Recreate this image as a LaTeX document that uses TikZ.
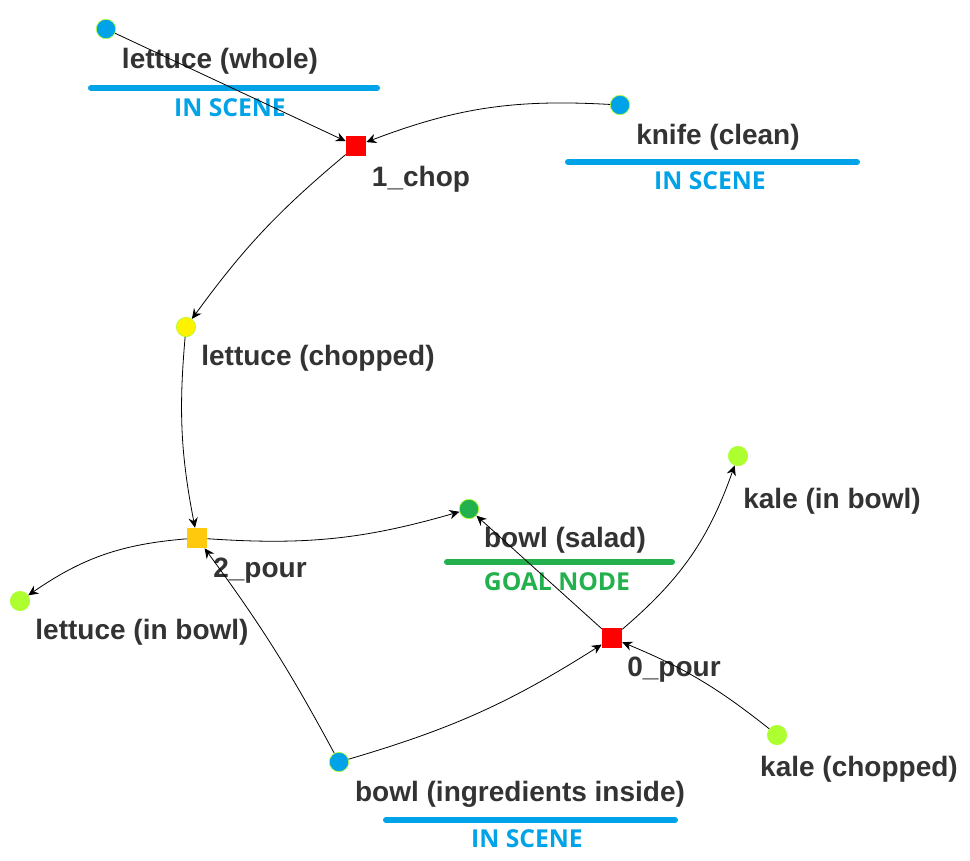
\documentclass[tikz,border=0pt]{standalone}
\usepackage{fontspec}
\setmainfont{Liberation Sans}
\newfontfamily\tagfont{Open Sans}
\usepackage{xcolor}
\usepackage{tikz}
\usetikzlibrary{arrows.meta}
\definecolor{sgText}{HTML}{333333}
\definecolor{sgBlue}{HTML}{00A2E8}
\definecolor{sgGreen}{HTML}{22B14C}
\definecolor{sgLime}{HTML}{ADFF2F}
\definecolor{sgYellow}{HTML}{FFF200}
\definecolor{sgGold}{HTML}{FFC90E}
\definecolor{sgRed}{HTML}{FF0000}

\begin{document}
\begin{tikzpicture}[
  x=0.75pt, y=-0.75pt,
  obj/.style={circle, fill=#1, draw=sgLime, line width=0.5pt, minimum size=14.5pt, inner sep=0pt},
  act/.style={rectangle, fill=#1, minimum size=15pt, inner sep=0pt},
  lbl/.style={font=\fontsize{21}{24}\selectfont\bfseries, text=sgText, inner sep=0pt},
  tag/.style={font=\tagfont\fontsize{18.5}{21}\selectfont\bfseries, text=#1, inner sep=0pt},
  bar/.style={line width=4.5pt, line cap=round, draw=#1},
  flow/.style={-{Stealth[length=7.5pt, width=7pt, inset=2.5pt]}, line width=0.6pt, draw=black},
]
\useasboundingbox[fill=white] (0,0) rectangle (970,860);

% ── Objects ───────────────────────────────────────────────────────────────────
\node[obj=sgBlue]   (lwhole) at (106,29)  {};
\node[obj=sgBlue]   (knife)  at (620,105) {};
\node[obj=sgYellow] (lchop)  at (186,327) {};
\node[obj=sgGreen]  (bsalad) at (469,509) {};
\node[obj=sgLime]   (kbowl)  at (738,456) {};
\node[obj=sgLime]   (lbowl)  at (20,601)  {};
\node[obj=sgLime]   (kchop)  at (777,735) {};
\node[obj=sgBlue]   (bingr)  at (339,762) {};

% ── Actions ───────────────────────────────────────────────────────────────────
\node[act=sgRed]  (chop1) at (356,146) {};
\node[act=sgGold] (pour2) at (197,538) {};
\node[act=sgRed]  (pour0) at (612,638) {};

% ── Labels ────────────────────────────────────────────────────────────────────
\node[lbl] (lwholeT) at (220,61)  {lettuce (whole)};
\node[lbl] (knifeT)  at (718,137) {knife (clean)};
\node[lbl] (chop1T)  at (421,179) {1\_chop};
\node[lbl] (lchopT)  at (318,358) {lettuce (chopped)};
\node[lbl] (pour2T)  at (260,571) {2\_pour};
\node[lbl] (bsaladT) at (565,540) {bowl (salad)};
\node[lbl] (kbowlT)  at (832,501) {kale (in bowl)};
\node[lbl] (lbowlT)  at (142,632) {lettuce (in bowl)};
\node[lbl] (pour0T)  at (674,670) {0\_pour};
\node[lbl] (kchopT)  at (859,769) {kale (chopped)};
\node[lbl] (bingrT)  at (520,794) {bowl (ingredients inside)};

% status bars + tags
\draw[bar=sgBlue]  (91,88)   -- (377,88);
\draw[bar=sgBlue]  (568,162) -- (857,162);
\draw[bar=sgGreen] (447,562) -- (672,562);
\draw[bar=sgBlue]  (386,820) -- (675,820);
\node[tag=sgBlue]  (lwholeS) at (230,108) {IN SCENE};
\node[tag=sgBlue]  (knifeS)  at (710,181) {IN SCENE};
\node[tag=sgGreen] (bsaladS) at (557,582) {GOAL NODE};
\node[tag=sgBlue]  (bingrS)  at (527,839) {IN SCENE};

% ── Flows ─────────────────────────────────────────────────────────────────────
\draw[flow] (lwhole) -- (chop1);
\draw[flow] (knife) to[bend right=12] (chop1);
\draw[flow] (chop1) to[bend right=7] (lchop);
\draw[flow] (lchop) to[bend right=8] (pour2);
\draw[flow] (pour2) to[bend right=10] (bsalad);
\draw[flow] (pour2) to[bend right=15] (lbowl);
\draw[flow] (bingr) to[bend right=4] (pour2);
\draw[flow] (bingr) to[bend right=8] (pour0);
\draw[flow] (pour0) -- (bsalad);
\draw[flow] (pour0) to[bend right=15] (kbowl);
\draw[flow] (kchop) to[bend right=8] (pour0);

\end{tikzpicture}
\end{document}
